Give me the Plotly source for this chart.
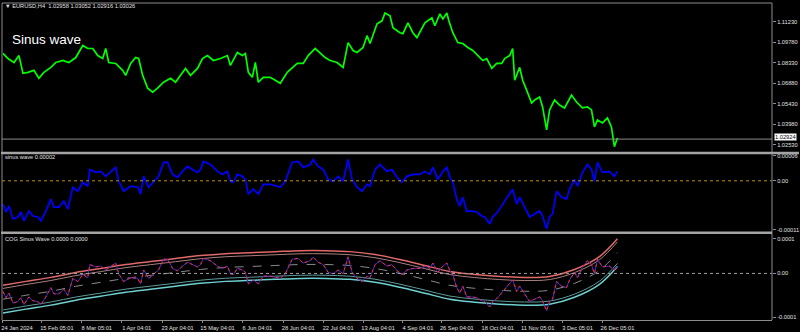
import plotly.graph_objects as go

# ---------------- data ----------------
# price panel (EURUSD H4 close, sampled along the chart; x = bar position)
price_x = [2, 7, 13, 18, 22, 27, 33, 38, 43, 50, 55, 62, 68, 75, 82, 87, 92, 97, 102, 105,
           108, 115, 122, 125, 130, 135, 138, 142, 147, 152, 157, 163, 170, 175, 180, 185, 190, 197, 202, 207,
           213, 220, 227, 230, 237, 242, 245, 248, 252, 255, 258, 263, 270, 275, 280, 287, 292, 297, 303, 308,
           315, 320, 325, 330, 337, 343, 348, 353, 357, 363, 367, 370, 377, 382, 385, 390, 393, 400, 403, 408,
           413, 417, 422, 425, 432, 435, 440, 443, 447, 449, 453, 458, 463, 468, 473, 478, 483, 487, 492, 497,
           502, 505, 510, 513, 515, 520, 523, 527, 532, 535, 540, 543, 547, 550, 555, 560, 565, 572, 577, 583,
           588, 592, 595, 598, 603, 608, 612, 615, 618]
price = [1.0899, 1.0863, 1.0835, 1.0884, 1.0758, 1.0765, 1.0779, 1.0723, 1.0765, 1.0800, 1.0835, 1.0849, 1.0835, 1.0870, 1.0955, 1.0934, 1.0934, 1.0884, 1.0863, 1.0934,
         1.0835, 1.0828, 1.0779, 1.0744, 1.0828, 1.0870, 1.0863, 1.0744, 1.0653, 1.0625, 1.0653, 1.0695, 1.0723, 1.0695, 1.0744, 1.0793, 1.0744, 1.0793, 1.0863, 1.0884,
         1.0849, 1.0863, 1.0884, 1.0814, 1.0906, 1.0884, 1.0899, 1.0765, 1.0730, 1.0835, 1.0695, 1.0730, 1.0730, 1.0709, 1.0688, 1.0765, 1.0800, 1.0828, 1.0828, 1.0884,
         1.0934, 1.0899, 1.0870, 1.0849, 1.0835, 1.0800, 1.0976, 1.0920, 1.0906, 1.0941, 1.1025, 1.0969, 1.1109, 1.1130, 1.1186, 1.1165, 1.1081, 1.1046, 1.1039, 1.1116,
         1.1046, 1.1011, 1.1081, 1.1116, 1.1151, 1.1095, 1.1179, 1.1144, 1.1186, 1.1130, 1.1046, 1.0976, 1.0969, 1.0941, 1.0920, 1.0884, 1.0849, 1.0863, 1.0793, 1.0828,
         1.0828, 1.0863, 1.0884, 1.0934, 1.0709, 1.0800, 1.0709, 1.0639, 1.0548, 1.0569, 1.0590, 1.0520, 1.0358, 1.0499, 1.0569, 1.0534, 1.0513, 1.0604, 1.0555, 1.0513,
         1.0520, 1.0499, 1.0379, 1.0428, 1.0407, 1.0442, 1.0379, 1.0239, 1.0300]
bid_price = 1.02924

# sinus wave oscillator (values in units of 1e-5)
wave_x = [2, 5, 8, 12, 17, 20, 23, 28, 32, 37, 40, 45, 50, 53, 58, 63, 67, 72, 77, 82,
          87, 89, 95, 100, 105, 110, 115, 118, 123, 130, 137, 140, 143, 148, 153, 158, 163, 167, 172, 177,
          182, 187, 192, 197, 200, 203, 210, 217, 222, 227, 230, 233, 237, 242, 245, 248, 253, 258, 263, 270,
          277, 280, 285, 288, 292, 298, 303, 310, 313, 318, 323, 328, 333, 338, 343, 348, 352, 357, 362, 367,
          370, 375, 380, 387, 392, 397, 402, 407, 413, 420, 425, 430, 433, 438, 443, 447, 450, 453, 457, 460,
          463, 467, 472, 477, 482, 485, 490, 493, 498, 503, 508, 513, 517, 520, 525, 530, 535, 540, 543, 547,
          550, 553, 557, 562, 567, 570, 575, 578, 583, 588, 592, 595, 598, 603, 610, 615, 618]
wave_e5 = [-5.22, -6.99, -5.66, -8.55, -8.10, -6.99, -8.99, -6.77, -7.88, -8.10, -8.99, -6.77, -4.11, -5.88, -5.88, -4.55, -6.33, -1.44, -2.33, -0.33,
           -1.22, 2.55, 1.89, 2.11, 1.00, 2.11, 3.00, -0.11, -2.33, -1.22, -1.44, -3.00, 1.00, -1.44, -0.11, 1.00, 4.11, 4.11, 1.44, 0.78,
           2.11, 3.22, 2.55, 1.89, 2.55, 4.33, 3.66, 2.11, 1.44, 2.11, -0.11, -0.33, 1.44, 1.00, 0.33, -3.00, -1.89, -3.00, -0.78, -0.78,
           -1.22, -1.44, -0.11, 1.89, 4.11, 4.33, 3.00, 3.66, 4.77, 3.22, 2.55, 0.33, -0.11, 1.00, -0.11, 4.77, 0.33, -1.44, -2.33, -0.78,
           -1.22, 2.55, 3.66, 2.11, 2.55, 0.78, -0.33, 1.00, 1.44, 1.44, 2.11, 1.44, 3.00, 0.33, 2.11, 3.00, 0.78, -0.33, -4.11, -5.66,
           -3.66, -6.77, -6.77, -6.99, -7.88, -8.10, -9.66, -8.10, -6.99, -5.22, -3.66, -1.89, -5.22, -3.66, -5.88, -8.10, -7.44, -6.77, -7.88, -10.77,
           -8.10, -7.44, -2.33, -3.66, -4.11, -1.89, 0.33, -1.22, 1.89, 3.66, 2.55, -0.11, 4.11, 1.89, 2.11, 1.00, 2.11]

# COG regression channel (units of 1e-5)
cog_x = [2, 25, 50, 75, 100, 125, 150, 175, 200, 225, 250, 275, 300, 325, 350, 375, 400, 425, 450, 475,
         500, 525, 550, 575, 600, 618]
cog_mid_e5 = [-7.43, -6.29, -5.14, -3.71, -2.57, -1.43, -0.57, 0.29, 1.14, 1.71, 2.00, 2.29, 2.57, 2.57, 2.29, 1.43, 0.00, -1.71, -3.43, -4.29,
              -4.86, -5.14, -4.86, -2.86, 0.86, 6.00]
cog_up2_e5 = [-3.43, -2.29, -1.14, 0.29, 1.43, 2.57, 3.43, 4.29, 5.14, 5.71, 6.00, 6.29, 6.57, 6.57, 6.29, 5.43, 4.00, 2.29, 0.57, -0.29,
              -0.86, -1.14, -0.86, 1.14, 4.86, 10.00]
cog_up1_e5 = [-4.33, -3.19, -2.04, -0.61, 0.53, 1.67, 2.53, 3.39, 4.24, 4.81, 5.10, 5.39, 5.67, 5.67, 5.39, 4.53, 3.10, 1.39, -0.33, -1.19,
              -1.76, -2.04, -1.76, 0.24, 3.96, 9.10]
cog_dn1_e5 = [-10.53, -9.39, -8.24, -6.81, -5.67, -4.53, -3.67, -2.81, -1.96, -1.39, -1.10, -0.81, -0.53, -0.53, -0.81, -1.67, -3.10, -4.81, -6.53, -7.39,
              -7.96, -8.24, -7.96, -5.96, -2.24, 2.90]
cog_dn2_e5 = [-11.43, -10.29, -9.14, -7.71, -6.57, -5.43, -4.57, -3.71, -2.86, -2.29, -2.00, -1.71, -1.43, -1.43, -1.71, -2.57, -4.00, -5.71, -7.43, -8.29,
              -8.86, -9.14, -8.86, -6.86, -3.14, 2.00]
E5 = 1e-5

# axis labels
date_tick_pos = [1, 41, 81, 121, 162, 202, 242, 283, 323, 363, 403, 442, 483, 523, 563, 603]
date_tick_text = ["24 Jan 2024", "15 Feb 05:01", "8 Mar 05:01", "1 Apr 04:01", "23 Apr 04:01",
                  "15 May 04:01", "6 Jun 04:01", "28 Jun 04:01", "22 Jul 04:01", "13 Aug 04:01",
                  "4 Sep 04:01", "26 Sep 04:01", "18 Oct 04:01", "11 Nov 05:01", "3 Dec 05:01",
                  "26 Dec 05:01"]
price_ticks = [1.11230, 1.09780, 1.08330, 1.06880, 1.05430, 1.03980, 1.02530]
wave_tick_vals = [5.66e-5, 0.0, -1.099e-4]
wave_tick_text = ["0.00006", "0.00", "-0.00011"]
cog_tick_vals = [1.0e-4, 0.0, -1.257e-4]
cog_tick_text = ["0.0001", "0.00", "-0.0001"]

# ---------------- figure ----------------
W, H = 800, 332
ML, MR, MT, MB = 1, 27, 2, 10
PW, PH = W - ML - MR, H - MT - MB


def px_x(px):
    return (px - ML) / PW


def px_y(py):
    return (H - MB - py) / PH


FONT = "Liberation Sans, Arial, sans-serif"
TXT = "#e0e0e0"
GRID = "#8c8c8c"

fig = go.Figure()

# main price
fig.add_trace(go.Scatter(x=price_x, y=price, mode="lines", xaxis="x", yaxis="y",
                         line=dict(color="#00ff00", width=1.7), hoverinfo="skip"))

# sinus wave
fig.add_trace(go.Scatter(x=wave_x, y=[v * E5 for v in wave_e5], mode="lines", xaxis="x", yaxis="y2",
                         line=dict(color="#0000ff", width=1.7), hoverinfo="skip"))

# COG channel
for arr, col, w, dash in [
    (cog_up2_e5, "#e06a6a", 1.5, "solid"),
    (cog_up1_e5, "#a88080", 1, "solid"),
    (cog_mid_e5, "#8a8a8a", 1, "dash"),
    (cog_dn1_e5, "#5f9a9a", 1, "solid"),
    (cog_dn2_e5, "#6fd0d0", 1.5, "solid"),
]:
    fig.add_trace(go.Scatter(x=cog_x, y=[v * E5 for v in arr], mode="lines", xaxis="x", yaxis="y3",
                             line=dict(color=col, width=w, dash=dash, shape="spline", smoothing=1.0),
                             hoverinfo="skip"))

# wave copy in COG panel
fig.add_trace(go.Scatter(x=wave_x, y=[v * E5 for v in wave_e5], mode="lines", xaxis="x", yaxis="y3",
                         line=dict(color="#3a2ad0", width=1), hoverinfo="skip"))
fig.add_trace(go.Scatter(x=wave_x, y=[v * E5 for v in wave_e5], mode="lines", xaxis="x", yaxis="y3",
                         line=dict(color="#ff2a2a", width=1, dash="dot"), hoverinfo="skip"))

shapes = [
    # bid line
    dict(type="line", xref="paper", yref="y", x0=0, x1=1, y0=bid_price, y1=bid_price,
         line=dict(color="#8a8a8a", width=1)),
    # zero lines
    dict(type="line", xref="paper", yref="y2", x0=0, x1=1, y0=0, y1=0,
         line=dict(color="#b8900b", width=1, dash="dot")),
    dict(type="line", xref="paper", yref="y3", x0=0, x1=1, y0=0, y1=0,
         line=dict(color="#a0a0a0", width=1, dash="dot")),
    # frame
    dict(type="line", xref="paper", yref="paper", x0=0, x1=0, y0=0, y1=1, line=dict(color=GRID, width=1)),
    dict(type="line", xref="paper", yref="paper", x0=1, x1=1, y0=0, y1=1, line=dict(color=GRID, width=1)),
    dict(type="line", xref="paper", yref="paper", x0=0, x1=1, y0=1, y1=1, line=dict(color=GRID, width=1)),
    # separators
    dict(type="line", xref="paper", yref="paper", x0=px_x(0), x1=px_x(800), y0=px_y(153.5), y1=px_y(153.5),
         line=dict(color="#a4a4a4", width=2.5)),
    dict(type="line", xref="paper", yref="paper", x0=px_x(0), x1=1, y0=px_y(234), y1=px_y(234),
         line=dict(color="#a4a4a4", width=2.5)),
]

small = dict(family=FONT, size=5.7, color=TXT)

annotations = [
    dict(xref="paper", yref="paper", x=px_x(2), y=px_y(5), xanchor="left", yanchor="middle",
         text="\u25bc EURUSD,H4  1.02958 1.03052 1.02916 1.03026", showarrow=False, font=small),
    dict(xref="paper", yref="paper", x=px_x(9), y=px_y(39), xanchor="left", yanchor="middle",
         text="Sinus wave", showarrow=False, font=dict(family=FONT, size=13.5, color="#ffffff")),
    dict(xref="paper", yref="paper", x=px_x(2), y=px_y(157), xanchor="left", yanchor="middle",
         text="sinus wave 0.00002", showarrow=False, font=small),
    dict(xref="paper", yref="paper", x=px_x(2), y=px_y(240), xanchor="left", yanchor="middle",
         text="COG Sinus Wave 0.0000 0.0000", showarrow=False, font=small),
    dict(xref="paper", yref="paper", x=px_x(775), y=px_y(137), xanchor="left", yanchor="middle",
         text="1.02924", showarrow=False, bgcolor="#ffffff", borderpad=0,
         font=dict(family=FONT, size=5.7, color="#000000")),
]

yax_common = dict(side="right", anchor="x", showgrid=False, zeroline=False, showline=False,
                  ticks="outside", ticklen=3, tickcolor=GRID, tickfont=small, fixedrange=True)

fig.update_layout(
    width=W, height=H,
    margin=dict(l=ML, r=MR, t=MT, b=MB, pad=0),
    paper_bgcolor="#000000", plot_bgcolor="#000000",
    showlegend=False,
    xaxis=dict(range=[1, 773], anchor="y3", showgrid=False, zeroline=False,
               showline=True, linecolor=GRID, linewidth=1,
               tickmode="array", tickvals=date_tick_pos, ticktext=date_tick_text,
               ticks="outside", ticklen=2, tickcolor=GRID, tickfont=small,
               ticklabelshift=15, tickangle=0, fixedrange=True),
    yaxis=dict(domain=[px_y(152), 1], range=[1.02039, 1.12563],
               tickmode="array", tickvals=price_ticks, ticktext=[f"{v:.5f}" for v in price_ticks],
               **yax_common),
    yaxis2=dict(domain=[px_y(232), px_y(155)], range=[-1.121e-4, 5.88e-5],
                tickmode="array", tickvals=wave_tick_vals, ticktext=wave_tick_text, **yax_common),
    yaxis3=dict(domain=[0, px_y(236)], range=[-1.343e-4, 1.114e-4],
                tickmode="array", tickvals=cog_tick_vals, ticktext=cog_tick_text, **yax_common),
    shapes=shapes,
    annotations=annotations,
)

fig.write_html("out.html")
